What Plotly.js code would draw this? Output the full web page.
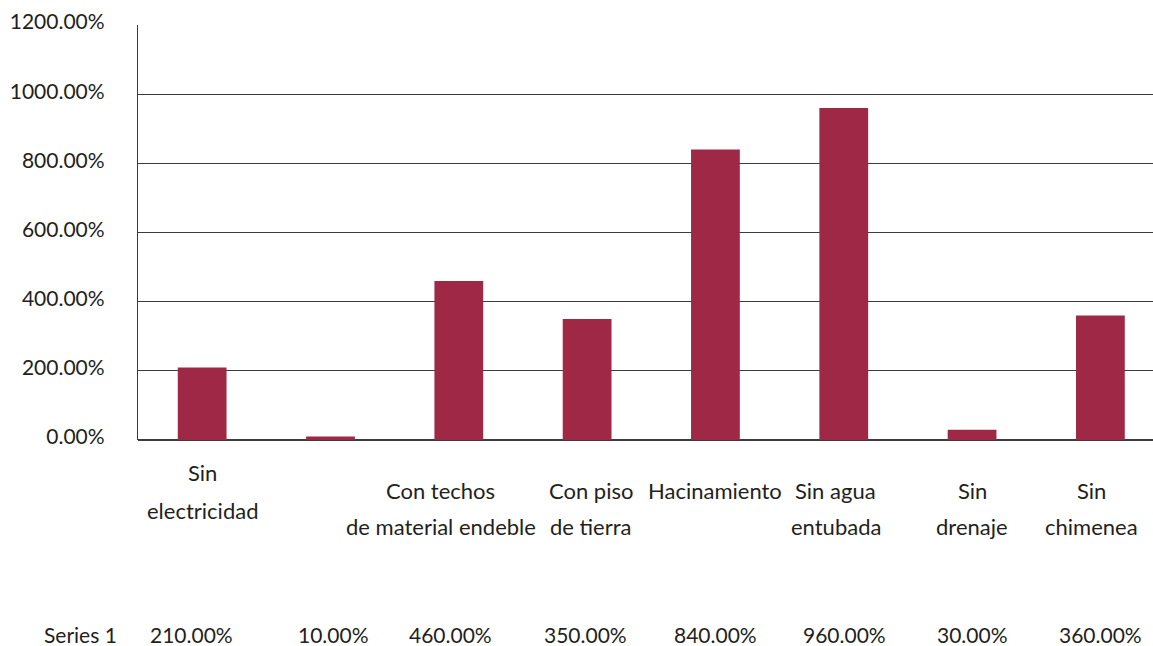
<!DOCTYPE html>
<html>
<head>
<meta charset="utf-8">
<script src="https://cdn.plot.ly/plotly-3.0.1.min.js"></script>
<style>html,body{margin:0;padding:0;background:#fff;}#chart{width:1153px;height:646px;}</style>
</head>
<body>
<div id="chart"></div>
<script>
// Data
const categories = ["Sin\nelectricidad", "", "Con techos\nde material endeble", "Con piso\nde tierra", "Hacinamiento", "Sin agua\nentubada", "Sin\ndrenaje", "Sin\nchimenea"];
const seriesName = "Series 1";
const values = [210, 10, 460, 350, 840, 960, 30, 360];
const yTicks = [0, 200, 400, 600, 800, 1000, 1200];

// Layout tweaks (pixel offsets of texts, not data)
const labelDx = [0, 0, -18, 4, 0, -8, 0, -9];
const labelDy = [[-32, -70], [-50, -86], [-50, -86], [-50, -86], [-50, -86], [-50, -86], [-50, -86], [-50, -86]];
const tableDx = [-11, 3, -8, -2, 0, 1, 0, 0];

const FONT = "Lato, 'Open Sans', sans-serif";
const TXT = "#231f20";
const xIdx = categories.map((c, i) => i);

const annotations = [];
categories.forEach((lab, i) => {
  if (!lab) return;
  lab.split("\n").forEach((line, j) => {
    annotations.push({
      x: i, xref: "x", y: 0, yref: "paper",
      text: line, showarrow: false,
      xanchor: "center", yanchor: "middle",
      xshift: labelDx[i], yshift: labelDy[i][j],
      font: {family: FONT, size: 22, color: TXT}
    });
  });
});
values.forEach((v, i) => {
  annotations.push({
    x: i, xref: "x", y: 0, yref: "paper",
    text: v.toFixed(2) + "%", showarrow: false,
    xanchor: "center", yanchor: "middle",
    xshift: tableDx[i], yshift: -194,
    font: {family: FONT, size: 21, color: TXT}
  });
});
annotations.push({
  x: (80 - 138) / 1015, xref: "paper", y: 0, yref: "paper", text: seriesName, showarrow: false,
  xanchor: "center", yanchor: "middle", yshift: -194,
  font: {family: FONT, size: 21, color: TXT}
});

const trace = {
  type: "bar",
  x: xIdx,
  y: values,
  name: seriesName,
  width: 0.38,
  marker: {color: "#9f2846"},
  hoverinfo: "none"
};

const layout = {
  width: 1153, height: 646,
  margin: {l: 138, r: 0, t: 25, b: 206, pad: 0},
  paper_bgcolor: "#fff", plot_bgcolor: "#fff",
  showlegend: false,
  font: {family: FONT, size: 21, color: TXT},
  xaxis: {
    range: [-0.5, 7.41],
    showticklabels: false, showgrid: false, zeroline: false,
    showline: false, ticks: "", fixedrange: true
  },
  yaxis: {
    range: [0, 1200],
    tickvals: yTicks,
    ticktext: yTicks.map(t => t.toFixed(2) + "%"),
    showgrid: true, gridcolor: "#3c3c3c", gridwidth: 1.2,
    zeroline: true, zerolinecolor: "#3c3c3c", zerolinewidth: 1.6,
    showline: true, linecolor: "#3c3c3c", linewidth: 1.2,
    ticks: "", ticklabelstandoff: 28, ticklabelshift: -3,
    tickfont: {family: FONT, size: 21, color: TXT},
    fixedrange: true
  },
  annotations: annotations
};

Plotly.newPlot("chart", [trace], layout, {displayModeBar: false, staticPlot: true});
</script>
</body>
</html>
